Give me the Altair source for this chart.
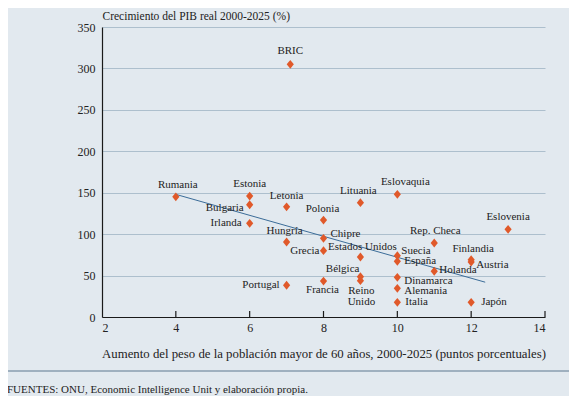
import altair as alt
import pandas as pd

# ---- data ----
countries = ["BRIC", "Rumania", "Estonia", "Bulgaria", "Irlanda", "Letonia", "Hungría",
             "Portugal", "Polonia", "Lituania", "Eslovaquia", "Chipre", "Grecia",
             "Estados Unidos", "Suecia", "España", "Francia", "Bélgica", "Reino Unido",
             "Dinamarca", "Alemania", "Italia", "Rep. Checa", "Eslovenia", "Finlandia",
             "Austria", "Holanda", "Japón"]
aging = [7.1, 4.0, 6.0, 6.0, 6.0, 7.0, 7.0,
         7.0, 8.0, 9.0, 10.0, 8.0, 8.0,
         9.0, 10.0, 10.0, 8.0, 9.0, 9.0,
         10.0, 10.0, 10.0, 11.0, 13.0, 12.0,
         12.0, 11.0, 12.0]
gdp_growth = [305, 145, 146, 135.5, 113, 133, 90.5,
              38.3, 117, 138, 148, 95, 80,
              72.4, 74, 67.2, 43.4, 48.6, 43.8,
              47.9, 34.6, 17.7, 89.3, 105.8, 69.2,
              66.4, 55.2, 17.7]
trend_x = [4.0, 12.38]
trend_y = [148, 42]
x_ticks = [2, 4, 6, 8, 10, 12, 14]
inner_ticks = [4, 6, 8, 10, 12, 14]
y_ticks = [0, 50, 100, 150, 200, 250, 300, 350]

y_title = "Crecimiento del PIB real 2000-2025 (%)"
x_title = "Aumento del peso de la población mayor de 60 años, 2000-2025 (puntos porcentuales)"
footer = "FUENTES: ONU, Economic Intelligence Unit y elaboración propia."

# ---- label placement (layout, not data) ----
placement = {
    "BRIC": ("center", 0, -13),
    "Rumania": ("center", 2, -12),
    "Estonia": ("center", 0, -12),
    "Letonia": ("center", 0, -11),
    "Hungría": ("center", -2, -11),
    "Polonia": ("center", -1, -11),
    "Lituania": ("center", -2, -12),
    "Eslovaquia": ("center", 8, -12),
    "Estados Unidos": ("center", 2, -10),
    "Rep. Checa": ("center", 1, -12),
    "Eslovenia": ("center", 0, -12),
    "Finlandia": ("center", 2, -11),
    "Bulgaria": ("right", -6, 3),
    "Irlanda": ("right", -8, 0),
    "Portugal": ("right", -7, 0),
    "Grecia": ("right", -4, 0),
    "Bélgica": ("right", -1, -8),
    "Chipre": ("left", 7, -4),
    "Suecia": ("left", 4, -5),
    "España": ("left", 7, 0),
    "Dinamarca": ("left", 7, 3.5),
    "Alemania": ("left", 7, 3),
    "Italia": ("left", 8, 0),
    "Austria": ("left", 5, 3),
    "Holanda": ("left", 5, -1.5),
    "Japón": ("left", 10, 0),
    "Francia": ("center", -1, 9),
}

FONT = "Liberation Serif"
W, H = 443, 290
BG = "#e2e9ef"
ORANGE = "#e0592a"

df = pd.DataFrame({"pais": countries, "x": aging, "y": gdp_growth})
df["label"] = df["pais"].str.replace("Reino Unido", "Reino\nUnido")

xs = alt.Scale(domain=[2, 14], nice=False, zero=False)
ys = alt.Scale(domain=[0, 350], nice=False)

base = alt.Chart(df)

axes = base.mark_point(opacity=0).encode(
    x=alt.X("x:Q", scale=xs, axis=alt.Axis(
        values=x_ticks, grid=False, ticks=False, domainColor="#1a1a1a", domainWidth=1.2,
        labelFont=FONT, labelFontSize=12, labelColor="#222", labelPadding=5,
        title=x_title, titleFont=FONT, titleFontSize=12.8, titleFontWeight="normal",
        titleColor="#222", titleY=40, titleBaseline="alphabetic")),
    y=alt.Y("y:Q", scale=ys, axis=alt.Axis(
        values=y_ticks, grid=True, gridColor="#adbfcd", gridWidth=1, ticks=False,
        domainColor="#1a1a1a", domainWidth=1.2,
        labelFont=FONT, labelFontSize=12, labelColor="#222", labelPadding=7,
        title=y_title, titleFont=FONT, titleFontSize=11.5, titleFontWeight="normal",
        titleColor="#222", titleAngle=0, titleAlign="left", titleBaseline="alphabetic",
        titleX=0, titleY=-8)),
)

ticks = alt.Chart(pd.DataFrame({"t": inner_ticks})).mark_rule(
    color="#1a1a1a", strokeWidth=1.2).encode(
    x=alt.X("t:Q", scale=xs), y=alt.value(H - 6), y2=alt.value(H))

trend = alt.Chart(pd.DataFrame({"x": trend_x, "y": trend_y})).mark_line(
    color="#3b6c98", strokeWidth=1).encode(
    x=alt.X("x:Q", scale=xs), y=alt.Y("y:Q", scale=ys))

diamond = "M0,-1.1L0.9,0L0,1.1L-0.9,0Z"
points = base.mark_point(shape=diamond, filled=True, size=64, color=ORANGE,
                         opacity=1).encode(
    x=alt.X("x:Q", scale=xs), y=alt.Y("y:Q", scale=ys))

label_layers = []
for name, (align, dx, dy) in placement.items():
    label_layers.append(
        base.transform_filter(alt.datum.pais == name).mark_text(
            font=FONT, fontSize=11, color="#222", align=align, baseline="middle",
            dx=dx, dy=dy).encode(
            x=alt.X("x:Q", scale=xs), y=alt.Y("y:Q", scale=ys), text="label:N"))

ru = base.transform_filter(alt.datum.pais == "Reino Unido").mark_text(
    font=FONT, fontSize=11, color="#222", align="center", baseline="top",
    dx=1, dy=4, lineBreak="\n", lineHeight=11.5).encode(
    x=alt.X("x:Q", scale=xs), y=alt.Y("y:Q", scale=ys), text="label:N")

sep = alt.Chart(pd.DataFrame({"a": [0]})).mark_rule(
    color="#9fb0bf", strokeWidth=2).encode(
    x=alt.value(-100), x2=alt.value(W + 40), y=alt.value(344))

foot = alt.Chart(pd.DataFrame({"t": [footer]})).mark_text(
    font=FONT, fontSize=11, color="#222", align="left", baseline="alphabetic").encode(
    x=alt.value(-95), y=alt.value(366), text="t:N")

chart = alt.layer(axes, ticks, trend, points, *label_layers, ru, sep, foot).properties(
    width=W, height=H,
    autosize=alt.AutoSizeParams(type="none"),
    padding={"left": 94, "top": 19, "right": 24, "bottom": 79},
).configure(background=BG).configure_view(stroke=None)

chart.save("out.html", embed_options={"renderer": "svg", "actions": False})
